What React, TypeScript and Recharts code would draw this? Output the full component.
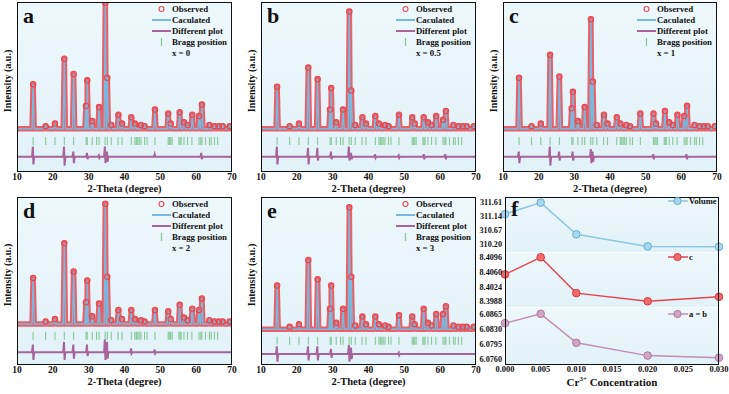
import React from 'react';
import { ComposedChart, LineChart, Line, Area, XAxis, YAxis } from 'recharts';

// peak positions shared by all XRD patterns (2-theta, degree)
const PEAK_POS = [14.5, 18.0, 20.6, 23.2, 25.8, 29.25, 29.6, 31.0, 32.9, 34.65, 35.2, 36.3, 38.3, 39.3, 41.9, 42.9,
  44.6, 45.6, 48.5, 52.2, 52.9, 55.4, 56.6, 57.6, 58.9, 60.8, 61.6, 63.7, 65.1, 66.3, 67.4, 69.4];

// peak heights (relative intensity)
const OBS_A = [35, 2, 4, 55, 43, 18, 38, 6, 17, 99, 40, 3, 11, 4, 9, 4, 3, 2, 15, 12, 4, 13, 5, 3, 11, 10, 19, 3, 2, 2, 2, 2];
const OBS_B = [33, 2, 4, 48, 39, 15, 32, 5, 15, 92, 30, 3, 9, 4, 10, 4, 3, 2, 11, 9, 4, 9, 5, 3, 10, 7, 14, 3, 2, 2, 2, 2];
const OBS_C = [40, 2, 4, 58, 41, 16, 29, 6, 17, 86, 37, 3, 11, 4, 9, 4, 3, 2, 12, 12, 4, 14, 5, 3, 11, 10, 18, 3, 2, 2, 2, 2];
const OBS_D = [36, 2, 4, 63, 41, 17, 34, 6, 16, 94, 37, 3, 11, 4, 11, 4, 3, 2, 11, 10, 4, 15, 5, 3, 12, 11, 20, 3, 2, 2, 2, 2];
const OBS_E = [34, 2, 4, 54, 39, 16, 34, 5, 16, 95, 41, 3, 10, 4, 10, 4, 3, 2, 11, 10, 4, 16, 5, 3, 12, 12, 18, 3, 2, 2, 2, 2];

// difference plot spikes: [2-theta, up, down]
const DIFF_A = [[14.5, 8, 6], [23.2, 8, 7], [25.8, 4, 5], [29.6, 3, 2], [32.9, 1, 1], [34.6, 8, 5], [35.2, 4, 4], [48.5, 2, 0], [61.5, 3, 2]];
const DIFF_B = [[14.5, 8, 6], [23.2, 7, 6], [25.8, 7, 3], [29.6, 4, 2], [34.6, 8, 3], [35.2, 3, 2], [41.9, 2, 1], [48.5, 1, 1], [55.5, 2, 2], [61.5, 2, 2]];
const DIFF_C = [[14.5, 4, 5], [23.2, 8, 7], [25.8, 4, 3], [29.6, 4, 3], [34.7, 6, 5], [35.2, 4, 4], [52.2, 2, 2], [61.5, 2, 2]];
const DIFF_D = [[14.5, 6, 6], [23.2, 8, 6], [25.8, 6, 5], [29.6, 6, 3], [34.6, 10, 6], [35.2, 8, 5], [41.9, 3, 1], [48.5, 2, 1]];
const DIFF_E = [[14.5, 6, 6], [23.2, 6, 5], [25.8, 6, 5], [29.6, 4, 3], [34.6, 7, 6], [35.2, 5, 4], [48.5, 1, 1]];

const BRAGG_POS = [14.5, 18.0, 20.6, 23.2, 25.8, 29.3, 29.6, 31.0, 32.2, 32.9, 34.6, 35.2, 36.3, 38.2, 39.3, 41.9, 42.9,
  43.3, 43.7, 44.1, 44.6, 45.6, 46.3, 48.5, 52.2, 52.6, 52.9, 53.3, 55.2, 55.5, 55.8, 56.6, 57.6, 58.8, 60.8, 61.3,
  61.6, 62.6, 63.7, 64.2, 65.1, 66.0];

const X_TICKS = [10, 20, 30, 40, 50, 60, 70];
const LEGEND_LABELS = ['Observed', 'Caculated', 'Different plot', 'Bragg position'];

// panel f
const CR = [0, 0.005, 0.01, 0.02, 0.03];
const VOLUME = [311.2, 311.58, 310.53, 310.13, 310.12];
const LAT_C = [8.4054, 8.4096, 8.4008, 8.3988, 8.3999];
const LAT_A = [6.0844, 6.0866, 6.0798, 6.0768, 6.0763];
const VOL_TICKS = [310.2, 310.67, 311.14, 311.61];
const C_TICKS = [8.3988, 8.4024, 8.406, 8.4096];
const A_TICKS = [6.076, 6.0795, 6.083, 6.0865];
const CR_TICKS = [0, 0.005, 0.01, 0.015, 0.02, 0.025, 0.03];

const FONT = '"Liberation Serif", "Times New Roman", serif';
const BG = 'linear-gradient(180deg, #edf8fc 0%, #e2f2f9 100%)';
const OBS = '#e8474e';
const CALC = '#79b9df';
const CALC_FILL = '#a6d3ec';
const DIFF = '#a7649a';
const BRAGG = '#86c795';
const HW = 0.3;

function buildProfile(heights: number[]) {
  const pts: any[] = [{ tt: 10, i: 0 }, { tt: 70, i: 0 }];
  PEAK_POS.forEach((p, k) => {
    pts.push({ tt: p - HW, i: 0 }, { tt: p, i: heights[k], apex: true }, { tt: p + HW, i: 0 });
  });
  return pts.sort((a, b) => a.tt - b.tt);
}

function buildDiff(spikes: number[][], base: number) {
  const pts: any[] = [{ tt: 10, i: base }, { tt: 70, i: base }];
  spikes.forEach(([p, u, d]) => {
    pts.push({ tt: p - 0.3, i: base }, { tt: p - 0.08, i: base + u }, { tt: p + 0.08, i: base - d }, { tt: p + 0.3, i: base });
  });
  return pts.sort((a, b) => a.tt - b.tt);
}

const obsDot = (props: any) => {
  const { cx, cy, payload, index } = props;
  if (!payload || !payload.apex) return <g key={`o${index}`} />;
  return <circle key={`o${index}`} cx={cx} cy={cy} r={2.7} fill="none" stroke={OBS} strokeWidth={1.1} />;
};

const braggTick = (props: any) => {
  const { cx, cy, index } = props;
  return <line key={`b${index}`} x1={cx} x2={cx} y1={cy - 4} y2={cy + 4} stroke={BRAGG} strokeWidth={1.1} />;
};

const txt = { fontFamily: FONT, fontWeight: 700, color: '#111' } as const;

function LegendIcon({ k }: { k: number }) {
  return (
    <svg width={19} height={12} style={{ flex: 'none' }}>
      {k === 0 && <circle cx={9.5} cy={6} r={2.5} fill="none" stroke={OBS} strokeWidth={1.1} />}
      {k === 1 && <line x1={0} x2={19} y1={6} y2={6} stroke={CALC} strokeWidth={2} />}
      {k === 2 && <line x1={0} x2={19} y1={6} y2={6} stroke={DIFF} strokeWidth={2} />}
      {k === 3 && <line x1={9.5} x2={9.5} y1={2} y2={10} stroke={BRAGG} strokeWidth={1.2} />}
    </svg>
  );
}

function XrdPanel({ cfg }: { cfg: any }) {
  const { L, T, W, H, letter, xs, heights, spikes, dom, bragg, diff } = cfg;
  const profile = buildProfile(heights);
  const diffData = buildDiff(spikes, diff);
  const braggData = BRAGG_POS.map((tt) => ({ tt, i: bragg }));
  const ml = 10, mr = 8, xh = 20;
  const rows = [...LEGEND_LABELS, xs];
  return (
    <>
      <div style={{ position: 'absolute', left: L, top: T, width: W, height: H, background: BG }} />
      <div style={{ position: 'absolute', left: L - ml, top: T }}>
        <ComposedChart width={W + ml + mr} height={H + xh + 4} data={profile}
          margin={{ top: 0, right: mr, left: ml, bottom: 4 }}>
          <XAxis type="number" dataKey="tt" domain={[10, 70]} ticks={X_TICKS} allowDataOverflow
            tickSize={0} tickMargin={1} axisLine={false} height={xh}
            tick={{ fontSize: 9.5, fontWeight: 700, fill: '#111', fontFamily: FONT }}
            label={{ value: '2-Theta (degree)', position: 'insideBottom', offset: 0, fontSize: 10.5, fontWeight: 700, fill: '#111', fontFamily: FONT }} />
          <YAxis type="number" dataKey="i" domain={dom} allowDataOverflow hide />
          <Area type="linear" dataKey="i" baseValue={0} fill={CALC_FILL} fillOpacity={0.8} stroke="none" isAnimationActive={false} activeDot={false} />
          <Line type="linear" dataKey="i" stroke={OBS} strokeWidth={5.5} strokeLinejoin="round" strokeOpacity={0.85}
            dot={obsDot} activeDot={false} isAnimationActive={false} />
          <Line type="linear" dataKey="i" stroke={CALC} strokeWidth={1.4} dot={false} activeDot={false} isAnimationActive={false} />
          <Line type="linear" data={braggData} dataKey="i" stroke="none" dot={braggTick} activeDot={false} isAnimationActive={false} />
          <Line type="linear" data={diffData} dataKey="i" stroke={DIFF} strokeWidth={2} dot={false} activeDot={false} isAnimationActive={false} />
        </ComposedChart>
      </div>
      <div style={{ position: 'absolute', left: L, top: T, width: W, height: H, border: '1.3px solid #111', boxSizing: 'border-box', pointerEvents: 'none' }} />
      <div style={{ ...txt, position: 'absolute', left: L + 6, top: T + 2.5, fontSize: 22, lineHeight: 1 }}>{letter}</div>
      <div style={{ ...txt, position: 'absolute', left: L - 10, top: T + H / 2 - 6, transform: 'translate(-50%, -50%) rotate(-90deg)', fontSize: 10, whiteSpace: 'nowrap' }}>
        Intensity (a.u.)
      </div>
      {rows.map((r, k) => (
        <div key={r} style={{ position: 'absolute', left: L + W - 80, top: T + 1.3 + k * 10.8, height: 12, display: 'flex', alignItems: 'center' }}>
          <LegendIcon k={k} />
          <span style={{ ...txt, fontSize: 8.8, lineHeight: '12px', marginLeft: 1, whiteSpace: 'nowrap' }}>{r}</span>
        </div>
      ))}
    </>
  );
}

const PANELS = [
  { letter: 'a', xs: 'x = 0', L: 17, T: 2, W: 215, H: 170, heights: OBS_A, spikes: DIFF_A, dom: [-34, 99.5], bragg: -9.7, diff: -22 },
  { letter: 'b', xs: 'x = 0.5', L: 261, T: 2, W: 215, H: 170, heights: OBS_B, spikes: DIFF_B, dom: [-34, 99.5], bragg: -9.7, diff: -22 },
  { letter: 'c', xs: 'x = 1', L: 503, T: 2, W: 214, H: 170, heights: OBS_C, spikes: DIFF_C, dom: [-34, 99.5], bragg: -9.7, diff: -22 },
  { letter: 'd', xs: 'x = 2', L: 17, T: 197, W: 215, H: 168, heights: OBS_D, spikes: DIFF_D, dom: [-32, 99.2], bragg: -9.2, diff: -22 },
  { letter: 'e', xs: 'x = 3', L: 261, T: 197, W: 215, H: 168, heights: OBS_E, spikes: DIFF_E, dom: [-27.8, 103], bragg: -8.9, diff: -19.2 },
];

function FSection({ top, h, values, domain, ticks, digits, line, fill, stroke, showX }: any) {
  const rows = CR.map((x, k) => ({ x, v: values[k] }));
  const yw = 27, mr = 10, xh = showX ? 14 : 0;
  const dot = (p: any) => <circle key={`f${p.index}`} cx={p.cx} cy={p.cy} r={3.8} fill={fill} stroke={stroke} strokeWidth={1} />;
  return (
    <div style={{ position: 'absolute', left: 505 - yw, top }}>
      <LineChart width={yw + 214 + mr} height={h + xh} data={rows} margin={{ top: 0, right: mr, left: 0, bottom: 0 }}>
        <XAxis type="number" dataKey="x" domain={[0, 0.03]} ticks={CR_TICKS} hide={!showX} height={xh}
          tickSize={0} tickMargin={1} axisLine={false} interval={0}
          tickFormatter={(v: number) => v.toFixed(3)}
          tick={{ fontSize: 8.5, fontWeight: 700, fill: '#111', fontFamily: FONT }} />
        <YAxis type="number" domain={domain} ticks={ticks} width={yw} interval={0} allowDataOverflow
          tickSize={0} tickMargin={3} axisLine={false}
          tickFormatter={(v: number) => v.toFixed(digits)}
          tick={{ fontSize: 8.2, fontWeight: 700, fill: '#111', fontFamily: FONT }} />
        <Line type="linear" dataKey="v" stroke={line} strokeWidth={1.5} dot={dot} activeDot={false} isAnimationActive={false} />
      </LineChart>
    </div>
  );
}

function FLegend({ top, label, line, fill, stroke }: any) {
  return (
    <div style={{ position: 'absolute', left: 668, top: top - 6, height: 12, display: 'flex', alignItems: 'center' }}>
      <svg width={20} height={12}>
        <line x1={0} x2={20} y1={6} y2={6} stroke={line} strokeWidth={1.5} />
        <circle cx={9.5} cy={6} r={3.6} fill={fill} stroke={stroke} strokeWidth={1} />
      </svg>
      <span style={{ ...txt, fontSize: 8.5, marginLeft: 1, whiteSpace: 'nowrap' }}>{label}</span>
    </div>
  );
}

export default function App() {
  const bands = [[197, 55], [252, 55], [307, 58]];
  return (
    <div style={{ position: 'absolute', left: 0, top: 0, width: 729, height: 394, background: '#fff', overflow: 'hidden' }}>
      {PANELS.map((p) => <XrdPanel key={p.letter} cfg={p} />)}

      {bands.map(([t, h], k) => (
        <div key={k} style={{ position: 'absolute', left: 505, top: t, width: 214, height: h, background: BG, borderTop: k ? '1px solid #fafdff' : 'none', boxSizing: 'border-box' }} />
      ))}
      <FSection top={197} h={55} values={VOLUME} domain={[309.945, 311.766]} ticks={VOL_TICKS} digits={2}
        line="#8ec6e4" fill="#a9d7ee" stroke="#63aed6" />
      <FSection top={252} h={55} values={LAT_C} domain={[8.3974, 8.4109]} ticks={C_TICKS} digits={4}
        line="#e5444c" fill="#f06a6a" stroke="#d7383f" />
      <FSection top={307} h={58} values={LAT_A} domain={[6.0746, 6.0882]} ticks={A_TICKS} digits={4}
        line="#c48db5" fill="#d3a3c6" stroke="#ad7aa0" showX />
      <div style={{ position: 'absolute', left: 505, top: 197, width: 214, height: 168, border: '1.3px solid #111', boxSizing: 'border-box', pointerEvents: 'none' }} />
      <div style={{ ...txt, position: 'absolute', left: 511, top: 197.5, fontSize: 22, lineHeight: 1 }}>f</div>
      <FLegend top={200.7} label="Volume" line="#8ec6e4" fill="#a9d7ee" stroke="#63aed6" />
      <FLegend top={257} label="c" line="#e5444c" fill="#f06a6a" stroke="#d7383f" />
      <FLegend top={314} label="a = b" line="#c48db5" fill="#d3a3c6" stroke="#ad7aa0" />
      <div style={{ ...txt, position: 'absolute', left: 612, top: 382, transform: 'translate(-50%, -50%)', fontSize: 11, whiteSpace: 'nowrap' }}>
        Cr<sup style={{ fontSize: 7, verticalAlign: 'super', lineHeight: 0 }}>3+</sup> Concentration
      </div>
    </div>
  );
}
